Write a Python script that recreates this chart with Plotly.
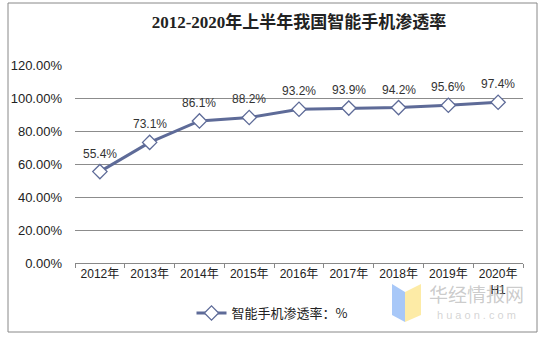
import plotly.graph_objects as go

# Smartphone penetration rate, 2012 to H1 2020
years = ["2012年", "2013年", "2014年", "2015年", "2016年", "2017年", "2018年", "2019年", "2020年<br>H1"]
rates = [55.4, 73.1, 86.1, 88.2, 93.2, 93.9, 94.2, 95.6, 97.4]
y_ticks = [0, 20, 40, 60, 80, 100, 120]
y_tick_text = ["0.00%", "20.00%", "40.00%", "60.00%", "80.00%", "100.00%", "120.00%"]
series_name = "智能手机渗透率：%"
title_text = "2012-2020年上半年我国智能手机渗透率"

W, H = 544, 339
L, R, T, B = 75, 21, 65, 76
LINE = "#5E6B98"


def px(x):
    return (x - L) / (W - L - R)


def py(y):
    return (H - B - y) / (H - T - B)


fig = go.Figure()
fig.add_trace(go.Scatter(
    x=years, y=rates, mode="lines+markers", name=series_name,
    line=dict(color=LINE, width=3),
    marker=dict(symbol="diamond", size=11, color="white",
                line=dict(color=LINE, width=1.3)),
    cliponaxis=False,
))

# value labels above each point
annotations = [
    dict(x=yr, y=v, xref="x", yref="y", text=f"{v:.1f}%", showarrow=False,
         yshift=18, font=dict(family="Liberation Sans, Arial, sans-serif", size=12, color="#333333"))
    for yr, v in zip(years, rates)
]

shapes = [
    # chart border
    dict(type="rect", xref="paper", yref="paper",
         x0=px(8), x1=px(537), y0=py(332), y1=py(3),
         line=dict(color="#888888", width=1), fillcolor="rgba(0,0,0,0)", layer="below"),
    # watermark logo
    dict(type="path", xref="paper", yref="paper",
         path=f"M {px(392)},{py(284)} L {px(405)},{py(292)} L {px(405)},{py(322)} L {px(392)},{py(315)} Z",
         fillcolor="#A8C8F8", line=dict(width=0)),
    dict(type="path", xref="paper", yref="paper",
         path=f"M {px(405)},{py(292)} L {px(421)},{py(284)} L {px(421)},{py(315)} L {px(405)},{py(322)} Z",
         fillcolor="#FDEBA6", line=dict(width=0)),
]

annotations += [
    dict(text="华经情报网", xref="paper", yref="paper", x=px(476), y=py(293),
         xanchor="center", yanchor="middle",
         showarrow=False, font=dict(family="Noto Sans CJK SC", size=19, color="rgba(160,160,160,0.55)")),
    dict(text="h u a o n . c o m", xref="paper", yref="paper", x=px(476), y=py(315),
         xanchor="center", yanchor="middle",
         showarrow=False, font=dict(family="Liberation Sans, Arial", size=11, color="rgba(170,170,170,0.5)")),
]

fig.update_layout(
    width=W, height=H,
    margin=dict(l=L, r=R, t=T, b=B),
    paper_bgcolor="white", plot_bgcolor="white",
    title=dict(text=f"<b>{title_text}</b>", x=0.5, xref="paper", xanchor="center",
               y=1 - 22 / H, yanchor="middle",
               font=dict(family="Liberation Serif, Noto Sans CJK SC", size=17, color="#222222")),
    xaxis=dict(
        type="category", showgrid=False, showline=True, linecolor="#888888", linewidth=1,
        ticks="outside", ticklen=4, tickcolor="#888888", tickson="boundaries",
        tickfont=dict(family="Liberation Sans, Arial, Noto Sans CJK SC", size=12, color="#222222"),
        range=[-0.5, len(years) - 0.5], fixedrange=True, automargin=False,
    ),
    yaxis=dict(
        range=[0, 120], tickvals=y_ticks, ticktext=y_tick_text,
        showgrid=True, gridcolor="#8C8C8C", gridwidth=1, zeroline=False, showline=False,
        tickfont=dict(family="Liberation Sans, Arial", size=13, color="#222222"),
        ticks="", ticklabelstandoff=12, automargin=False,
    ),
    showlegend=True,
    legend=dict(orientation="h", x=0.5, xanchor="center", xref="container",
                y=1 - 313 / H, yref="container", yanchor="middle",
                font=dict(family="Noto Sans CJK SC", size=13, color="#222222"),
                itemwidth=30),
    shapes=shapes, annotations=annotations,
)

fig.write_html("out.html")
